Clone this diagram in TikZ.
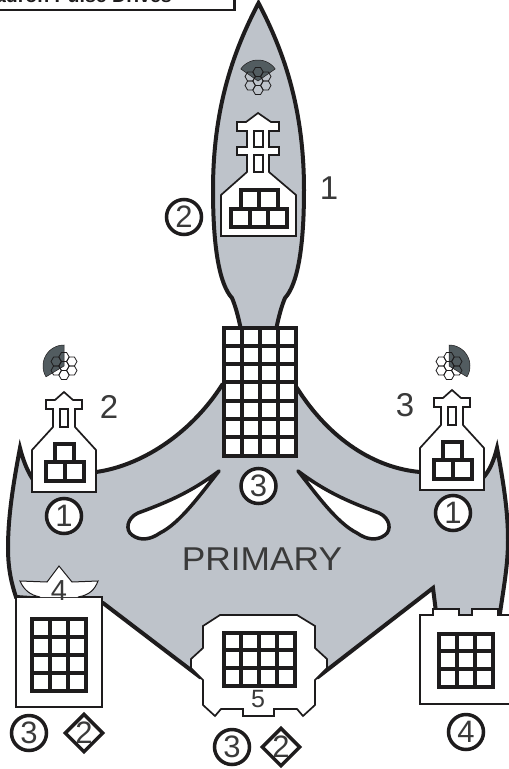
\documentclass[tikz,border=0pt]{standalone}
\usepackage{fontspec}
\setmainfont{Liberation Sans}
\usetikzlibrary{shapes.geometric}
\definecolor{hull}{HTML}{BEC3CA}
\definecolor{fan}{HTML}{525C60}
\definecolor{ink}{HTML}{1E1C1D}
\definecolor{numtext}{HTML}{3A3A3A}
\newcommand{\numfont}[1]{\fontsize{#1}{#1}\selectfont}
% cols and rows of square blocks, from the top left corner
\newcommand{\blockgrid}[6]{%
  \foreach \i in {1,...,#3}{\foreach \j in {1,...,#4}{%
    \draw[block] ({#1+(\i-1)*#5},{#2+(\j-1)*#6}) rectangle +(#5,#6);}}}
\tikzset{
  hullline/.style={draw=ink, fill=hull, line width=4pt, line join=miter},
  block/.style={draw=ink, fill=white, line width=4pt},
  bay/.style={draw=ink, fill=white, line width=1.7pt},
  slot/.style={draw=ink, fill=white, line width=3.5pt, line join=round},
  num/.style={text=numtext, font=\numfont{33}, inner sep=0pt},
  circled/.style={circle, draw=ink, fill=white, line width=3.5pt, minimum size=35pt,
                  inner sep=0pt, text=numtext, font=\numfont{31}},
  diamonded/.style={diamond, draw=ink, fill=white, line width=3.5pt, minimum size=36pt,
                    inner sep=0pt, text=numtext, font=\numfont{31}},
  pics/hexcell/.style={code={
    \draw[ink, line width=0.8pt] (5.2,0)--(2.6,4.5)--(-2.6,4.5)--(-5.2,0)--(-2.6,-4.5)--(2.6,-4.5)--cycle;}},
  pics/emitter/.style n args={2}{code={
    \fill[fan, draw=ink, line width=0.5pt] (0,0) -- plot[domain=#1:#2, samples=24] ({21*cos(\x)},{-21*sin(\x)}) -- cycle;
    \foreach \hx/\hy in {0/0, 0/-9, 0/9, -7.8/-4.5, 7.8/-4.5, -7.8/4.5, 7.8/4.5}
      \pic at (\hx,\hy) {hexcell};}},
  pics/smallturret/.style={code={
    \draw[bay] (0,0)--(-9,8)--(-18,8)--(-18,17)--(-11,17)--(-11,35)--(-32,58)--(-32,100)
      --(32,100)--(32,58)--(11,35)--(11,17)--(18,17)--(18,8)--(9,8)--cycle;
    \draw[ink, line width=2pt] (-4,17) rectangle (4,35);
    \blockgrid{-9}{52}{1}{1}{19}{18}
    \blockgrid{-18.5}{70}{2}{1}{19}{19}}}
}
\begin{document}
\begin{tikzpicture}[x=1pt, y=-1pt]
  \useasboundingbox (0,0) rectangle (509,769);
  \fill[white] (0,0) rectangle (509,769);
  % title box, cut off by the page
  \draw[ink, line width=2.5pt] (-10,-30) rectangle (234.5,10);
  \node[anchor=base east, inner sep=0pt, text=ink, font=\numfont{19.5}\bfseries] (title) at (172,2) {Squadron Pulse Drives};

  % main hull
  \draw[hullline] (32,478) .. controls (27,470) and (23,460) .. (20,448)
    .. controls (12,490) and (8,520) .. (8,548) .. controls (8,570) and (12,585) .. (16,597)
    -- (103,603) -- (200,677) -- (318,677) -- (433,588) -- (437,620) -- (499,620)
    .. controls (504,585) and (508,565) .. (508,540) .. controls (508,510) and (503,480) .. (497,448)
    .. controls (494,460) and (490,470) .. (483,478) -- (420,472)
    .. controls (375,468) and (330,440) .. (297,388) -- (222,385)
    .. controls (190,435) and (140,466) .. (96,472) -- cycle;
  % nose section
  \draw[hullline] (258.5,3) .. controls (235,48) and (213,105) .. (213,190)
    .. controls (213,250) and (220,285) .. (232,298) .. controls (235,305) and (238,315) .. (241,330)
    -- (276,330) .. controls (279,315) and (282,305) .. (285,298)
    .. controls (297,285) and (304,250) .. (304,190)
    .. controls (304,105) and (282,48) .. (258.5,3) -- cycle;

  \blockgrid{224}{327.5}{4}{7}{18}{18.3}

  % slots
  \draw[slot] (219,471) .. controls (190,493) and (165,503) .. (138,513)
    .. controls (127,518) and (125,530) .. (132,535) .. controls (140,541) and (150,540) .. (160,533)
    .. controls (180,523) and (200,495) .. cycle;
  \draw[slot] (298,471) .. controls (327,493) and (352,503) .. (379,513)
    .. controls (390,518) and (392,530) .. (385,535) .. controls (377,541) and (367,540) .. (357,533)
    .. controls (337,523) and (317,495) .. cycle;

  % nose turret
  \pic at (258,81) {emitter={35}{145}};
  \draw[bay] (258,113)--(246,122)--(237,122)--(237,131)--(247,131)--(247,147)--(237,147)--(237,155)--(247,155)
    --(247,172)--(221,195)--(221,236)--(296,236)--(296,195)--(269,172)--(269,155)--(279,155)--(279,147)
    --(269,147)--(269,131)--(279,131)--(279,122)--(271,122)--cycle;
  \draw[ink, line width=2pt] (254,131) rectangle (263,147);
  \draw[ink, line width=2pt] (254,155) rectangle (263,172);
  \blockgrid{240.5}{190}{2}{1}{18.5}{19}
  \blockgrid{231}{209}{3}{1}{18.5}{18}

  % side turrets
  \pic at (64,392) {smallturret};
  \pic at (452,390) {smallturret};
  \pic at (64,366) {emitter={90}{211}};
  \pic at (449,366) {emitter={-31}{90}};

  % rear left bay
  \draw[bay] (16,597) rectangle (102,707);
  \blockgrid{31.5}{618.5}{3}{4}{18.2}{18}
  \filldraw[fill=white, draw=ink, line width=1pt] (40,597) .. controls (30,595) and (24,590) .. (20,581)
    -- (47,582) -- (59,566) -- (72,582) -- (98,581) .. controls (95,589) and (90,595) .. (78,597);

  % rear centre bay
  \draw[bay] (220,615)--(297,615)--(315,626)--(315,648)--(327,659)--(327,668)--(315,680)--(315,705)--(303,716)
    --(297,709)--(274,709)--(274,716)--(243,716)--(243,709)--(221,709)--(215,716)--(203,705)--(203,680)
    --(191,668)--(191,659)--(203,648)--(203,626)--cycle;
  \blockgrid{223.5}{632.5}{4}{3}{17.75}{17.7}

  % rear right bay
  \draw[bay] (420,615)--(433,615)--(433,609)--(459,609)--(459,615)--(472,615)--(472,609)--(498,609)--(498,615)
    --(515,615)--(515,704)--(420,704)--cycle;
  \blockgrid{438.5}{633.5}{3}{3}{18}{17.7}

  % labels
  \node[text=numtext, font=\numfont{33}, inner sep=0pt, xscale=1.07] (primary) at (262,559) {PRIMARY};
  \node[num] (nose) at (329,188) {1};
  \node[num] (portturret) at (109,407) {2};
  \node[num] (stbdturret) at (405,405) {3};
  \node[num, font=\numfont{29}] (fourlbl) at (59,591) {4};
  \node[num, font=\numfont{25}] (fivelbl) at (258,699) {5};

  \node[circled] (noseguns) at (184,217) {2};
  \node[circled] (portguns) at (64,516) {1};
  \node[circled] (stbdguns) at (453,513) {1};
  \node[circled] (coreguns) at (258.5,486) {3};
  \node[circled] (leftguns) at (29,733) {3};
  \node[diamonded] (leftmiss) at (84,733) {2};
  \node[circled] (midguns) at (232,747) {3};
  \node[diamonded] (midmiss) at (281,747) {2};
  \node[circled] (rightguns) at (466,732) {4};
\end{tikzpicture}
\end{document}
